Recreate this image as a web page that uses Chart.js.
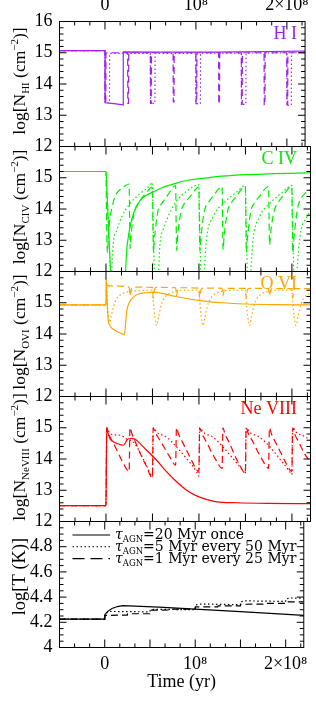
<!DOCTYPE html>
<html><head><meta charset="utf-8">
<script src="https://cdn.jsdelivr.net/npm/chart.js@4/dist/chart.umd.min.js"></script>
<style>
html,body{margin:0;padding:0;background:#fff;}
#wrap{position:relative;width:316px;height:728px;overflow:hidden;}
canvas{position:absolute;left:0;top:0;}
</style></head>
<body><div id="wrap">
<canvas id="c0" width="316" height="728"></canvas>
<canvas id="c1" width="316" height="728"></canvas>
<canvas id="c2" width="316" height="728"></canvas>
<canvas id="c3" width="316" height="728"></canvas>
<canvas id="c4" width="316" height="728"></canvas>
</div>
<script>
// ---------------- DATA (time in Myr, values in log units) ----------------
const SERIES_NAMES = ['τAGN=20 Myr once', 'τAGN=5 Myr every 50 Myr', 'τAGN=1 Myr every 25 Myr'];
const LEGEND_TEXT = ['=20 Myr once', '=5 Myr every 50 Myr', '=1 Myr every 25 Myr'];

const X_TICK_VALUES = [0, 1e8, 2e8];
const X_TICK_LABELS = ['0', '10⁸', '2×10⁸'];
const N_TICKS = [12, 13, 14, 15, 16];
const T_TICKS = [4, 4.2, 4.4, 4.6, 4.8, 5];

const HI_ONCE = [[-50,15.07],[0,15.07],[0.1,13.40],[10,13.37],[19.9,13.33],[20.1,15.03],[60,15.02],[120,15.02],[180,15.04],[220,15.05]];
const HI_P50 = [[-50,15.07],[0,15.07],[0.1,13.40],[4.9,13.40],[5.1,14.98],[49.9,14.98],[50.1,13.38],[54.9,13.38],[55.1,14.98],[99.9,14.98],[100.1,13.37],[104.9,13.37],[105.1,14.99],[149.9,14.99],[150.1,13.35],[154.9,13.35],[155.1,14.99],[199.9,15.0],[200.1,13.32],[204.9,13.32],[205.1,15.0],[220,15.0]];
const HI_P25 = [[-50,15.07],[0,15.07],[0.1,13.40],[0.9,13.40],[1.1,15.0],[24.9,15.0],[25.1,13.38],[25.9,13.38],[26.1,15.0],[49.9,15.0],[50.1,13.38],[50.9,13.38],[51.1,15.0],[74.9,15.0],[75.1,13.43],[75.9,13.43],[76.1,15.0],[99.9,15.0],[100.1,13.37],[100.9,13.37],[101.1,15.0],[124.9,15.0],[125.1,13.37],[125.9,13.37],[126.1,15.0],[149.9,15.0],[150.1,13.35],[150.9,13.35],[151.1,15.0],[174.9,15.0],[175.1,13.33],[175.9,13.33],[176.1,15.0],[199.9,15.0],[200.1,13.33],[200.9,13.33],[201.1,15.0],[220,15.0]];

const CIV_ONCE = [[-50,15.2],[0,15.2],[1,14.6],[2,13.9],[3,13.2],[4.3,12.4],[5.5,11.8],[6.5,11.2],[19.9,11.0],[21,11.9],[22.2,12.65],[24,13.1],[25.8,13.42],[29.4,13.85],[36.6,14.27],[43,14.43],[50.9,14.55],[60,14.68],[76,14.83],[88,14.92],[101,14.97],[125,15.05],[151,15.1],[180,15.13],[208,15.15],[220,15.16]];
const CIV_P50 = [[-50,15.2],[0,15.2],[1,14.6],[2,13.9],[3,13.2],[4,12.5],[5,11.6],[5.6,11.4],[6.5,12.2],[7.8,12.9],[11.5,13.31],[16.8,13.74],[25.8,14.17],[36.6,14.49],[47.3,14.75],[49.9,14.85],
 [50.6,13.8],[51.5,12.6],[52.5,11.6],[54.5,11.4],[56.5,12.0],[58,12.85],[61.6,13.35],[65.3,13.65],[74,14.18],[88,14.6],[99.9,14.78],
 [100.6,13.8],[101.5,12.6],[102.5,11.6],[104.5,11.4],[105.8,12.0],[108,13.0],[115,13.74],[126,14.17],[140.5,14.54],[149.9,14.75],
 [150.6,13.8],[151.5,12.6],[152.5,11.6],[154.5,11.4],[155.8,12.0],[158.4,13.05],[165,13.74],[176,14.17],[190,14.54],[199.9,14.75],
 [200.6,13.8],[201.5,12.6],[202.5,11.6],[204.5,11.4],[205.5,12.0],[208.6,13.1],[215.8,13.74],[220,13.92]];
const CIV_P25 = [[-50,15.2],[0,15.2],[0.5,14.0],[1,13.0],[1.5,12.6],[2.5,13.1],[4.3,13.7],[6.5,14.05],[9.7,14.4],[15,14.62],[20,14.73],[24.9,14.8],
 [25.5,13.5],[26,12.73],[27,13.15],[29.4,13.74],[32,14.02],[36.6,14.27],[43.8,14.54],[49.9,14.7],
 [50.5,13.5],[51,12.6],[52,13.0],[56,13.95],[60,14.18],[65,14.38],[74.9,14.75],
 [75.5,13.5],[76,12.67],[77,13.1],[81,13.95],[85,14.2],[90,14.38],[99.9,14.7],
 [100.5,13.5],[101,12.65],[102,13.05],[106,13.95],[110,14.2],[115,14.4],[124.9,14.72],
 [125.5,13.5],[126,12.7],[127,13.1],[131,13.95],[135,14.2],[140,14.4],[149.9,14.72],
 [150.5,13.5],[151,12.6],[152,13.0],[156,13.95],[160,14.2],[165,14.4],[174.9,14.72],
 [175.5,13.5],[176,12.85],[177,13.2],[181,13.95],[185,14.2],[190,14.4],[199.9,14.72],
 [200.5,13.5],[201,12.6],[202,13.0],[206,14.0],[210,14.35],[215,14.52],[220,14.62]];

const OVI_ONCE = [[-50,14.93],[0,14.93],[0.4,15.75],[1,15.2],[1.8,14.7],[2.5,14.43],[4.5,14.25],[7.9,14.15],[12,14.08],[19.9,13.98],[21,14.3],[22.3,14.72],[25,15.0],[29.4,15.18],[35,15.28],[43,15.32],[51,15.34],[75,15.2],[101,15.07],[125,15.0],[151,14.96],[180,14.94],[220,14.93]];
const OVI_P50 = [[-50,14.93],[0,14.93],[0.4,15.75],[1,15.3],[2,14.8],[3,14.5],[4.3,14.38],[5.5,14.55],[7.9,14.86],[11.5,15.13],[16,15.26],[22,15.34],[36.6,15.39],[49.9,15.4],
 [51,15.0],[52.5,14.55],[54.5,14.27],[56.5,14.55],[59.9,14.97],[65,15.23],[76,15.37],[88,15.4],[99.9,15.4],
 [101,15.0],[102.5,14.55],[104.5,14.27],[106.5,14.55],[109.9,14.97],[115,15.23],[126,15.37],[138,15.4],[149.9,15.4],
 [151,15.0],[152.5,14.55],[154.5,14.27],[156.5,14.55],[159.9,14.97],[165,15.23],[176,15.37],[188,15.4],[199.9,15.4],
 [201,15.0],[202.5,14.55],[204.5,14.27],[206.5,14.55],[209.9,14.97],[215,15.23],[220,15.3]];
const OVI_P25 = [[-50,14.93],[0,14.93],[0.4,15.75],[1,15.58],[3,15.54],[24.9,15.5],[25.8,15.22],[27,15.42],[29,15.5],[49.9,15.49],[50.8,15.15],[52,15.4],[54,15.49],[74.9,15.48],[75.8,15.22],[77,15.42],[79,15.48],[99.9,15.47],[100.8,15.15],[102,15.4],[104,15.47],[124.9,15.46],[125.8,15.22],[127,15.4],[129,15.46],[149.9,15.46],[150.8,15.15],[152,15.4],[154,15.46],[174.9,15.45],[175.8,15.22],[177,15.4],[179,15.45],[199.9,15.45],[200.8,15.15],[202,15.4],[204,15.45],[220,15.45]];

const NE_ONCE = [[-50,12.51],[0,12.51],[0.8,15.0],[2,14.85],[4.3,14.65],[8,14.55],[11.5,14.5],[18.6,14.44],[20.5,14.5],[22.3,14.6],[25,14.65],[27.6,14.66],[33,14.6],[38,14.45],[43.8,14.28],[54.5,13.96],[65.3,13.59],[76,13.27],[86.8,13.0],[97.5,12.82],[104.6,12.74],[119,12.63],[140,12.6],[173,12.58],[220,12.57]];
const NE_P50 = [[-50,12.51],[0,12.51],[0.8,15.0],[4.3,14.81],[15,14.76],[22,14.65],[29.4,14.54],[35,14.3],[40,14.01],[45,13.7],[49.9,13.43],
 [50.8,15.0],[54.5,14.86],[65,14.7],[76,14.38],[86.8,14.01],[97.5,13.59],[99.9,13.45],
 [100.8,15.0],[104.5,14.86],[115,14.7],[126,14.38],[137,14.0],[147.5,13.62],[149.9,13.52],
 [150.8,15.0],[154.5,14.86],[165,14.7],[176,14.4],[187,14.0],[197.5,13.6],[199.9,13.5],
 [200.8,15.0],[204.5,14.86],[215,14.7],[220,14.6]];
const NE_P25 = [[-50,12.51],[0,12.51],[0.8,15.0],[3,14.8],[8,14.5],[13,14.2],[18,13.9],[24.9,13.6],
 [25.8,15.0],[28,14.8],[33,14.45],[38,14.1],[43,13.8],[49.9,13.4],
 [50.8,15.0],[53,14.85],[58,14.6],[63,14.35],[68,14.1],[74.9,13.8],
 [75.8,15.0],[78,14.8],[83,14.5],[88,14.2],[93,13.9],[99.9,13.6],
 [100.8,15.0],[103,14.82],[108,14.55],[113,14.25],[118,13.98],[124.9,13.7],
 [125.8,15.0],[128,14.8],[133,14.5],[138,14.15],[143,13.85],[149.9,13.55],
 [150.8,15.0],[153,14.82],[158,14.55],[163,14.25],[168,13.98],[174.9,13.7],
 [175.8,15.0],[178,14.8],[183,14.5],[188,14.2],[193,13.9],[199.9,13.6],
 [200.8,15.0],[203,14.8],[208,14.5],[213,14.2],[220,13.9]];

const T_ONCE = [[-50,4.225],[0,4.225],[0.3,4.262],[3,4.285],[8,4.31],[14,4.325],[20,4.333],[60,4.32],[100,4.305],[150,4.285],[220,4.255]];
const T_P50 = [[-50,4.225],[0,4.225],[0.3,4.262],[3,4.28],[5,4.286],[49.9,4.283],[50.3,4.298],[55,4.303],[99.9,4.30],[100.3,4.338],[105,4.345],[149.9,4.34],[150.3,4.363],[155,4.37],[199.9,4.366],[200.3,4.385],[205,4.393],[220,4.392]];
const T_P25 = [[-50,4.225],[0,4.225],[0.3,4.255],[24.9,4.257],[25.3,4.268],[49.9,4.268],[50.3,4.296],[74.9,4.298],[75.3,4.305],[99.9,4.305],[100.3,4.322],[124.9,4.323],[125.3,4.33],[149.9,4.33],[150.3,4.343],[174.9,4.344],[175.3,4.35],[199.9,4.35],[200.3,4.362],[220,4.362]];

// ---------------- STYLE / LAYOUT ----------------
const SERIF = '"Liberation Serif", "Times New Roman", serif';
const WIDE = '"DejaVu Serif", serif';
const DASHES = [[], [1.5, 2.5], [7, 4]];
const X_MIN = -5e7, X_MAX = 2.2e8;
const X_MAJOR_STEP = 5e7, X_MINOR_STEP = 5e7 / 3;
const LEFT_W = 59.5, RIGHT_PAD = 5.5;

const PANELS = [
  { id: 'c0', top: 21.5, bottom: 146.5, color: '#A020F0', label: 'H I', sub: 'HI', series: [HI_ONCE, HI_P50, HI_P25],
    yMin: 12, yMax: 16, yTicks: N_TICKS, yMinor: 0.2, hideTop: false, smooth: false, xPos: 'top', xH: 21.5, xPad: 7, titleShift: -3 },
  { id: 'c1', top: 146.5, bottom: 271.5, color: '#00EE00', label: 'C IV', sub: 'CIV', series: [CIV_ONCE, CIV_P50, CIV_P25],
    yMin: 12, yMax: 16, yTicks: N_TICKS, yMinor: 0.2, hideTop: true, smooth: true, titleShift: -2 },
  { id: 'c2', top: 271.5, bottom: 396.5, color: '#FFA500', label: 'O VI', sub: 'OVI', series: [OVI_ONCE, OVI_P50, OVI_P25],
    yMin: 12, yMax: 16, yTicks: N_TICKS, yMinor: 0.2, hideTop: true, smooth: true, titleShift: -2 },
  { id: 'c3', top: 396.5, bottom: 521.5, color: '#FF0000', label: 'Ne VIII', sub: 'NeVIII', series: [NE_ONCE, NE_P50, NE_P25],
    yMin: 12, yMax: 16, yTicks: N_TICKS, yMinor: 0.2, hideTop: true, smooth: true, titleShift: -2 },
  { id: 'c4', top: 521.5, bottom: 647.5, color: '#000000', label: null, sub: null, series: [T_ONCE, T_P50, T_P25],
    yMin: 4, yMax: 5, yTicks: T_TICKS, yMinor: 0.05, hideTop: true, smooth: false, xPos: 'bottom', xH: 44, xPad: 8.2, titleShift: -8, legend: true }
];

function drawRich(ctx, parts, x, y) {
  let cx = x;
  parts.forEach(p => {
    ctx.font = p.font;
    ctx.fillText(p.text, cx, y + (p.dy || 0));
    cx += ctx.measureText(p.text).width;
  });
  return cx;
}
function richWidth(ctx, parts) {
  let w = 0;
  parts.forEach(p => { ctx.font = p.font; w += ctx.measureText(p.text).width; });
  return w;
}

const panelPlugin = {
  id: 'panel',
  afterDatasetsDraw(chart, args, o) {
    const { ctx, chartArea: a, scales: { x, y } } = chart;
    const p = o.cfg;
    ctx.save();
    ctx.strokeStyle = '#000';
    ctx.lineWidth = 1;
    ctx.setLineDash([]);
    ctx.beginPath();
    for (let v = X_MIN; v <= X_MAX + 1; v += X_MINOR_STEP) {
      const px = x.getPixelForValue(v);
      const isMajor = Math.abs(v / X_MAJOR_STEP - Math.round(v / X_MAJOR_STEP)) < 1e-6;
      const len = isMajor ? 8 : 4;
      ctx.moveTo(px, a.bottom); ctx.lineTo(px, a.bottom - len);
      ctx.moveTo(px, a.top); ctx.lineTo(px, a.top + len);
    }
    const nMinor = Math.round((p.yMax - p.yMin) / p.yMinor);
    for (let k = 0; k <= nMinor; k++) {
      const v = p.yMin + k * p.yMinor;
      const py = y.getPixelForValue(v);
      const isMajor = p.yTicks.some(t => Math.abs(t - v) < 1e-6);
      const len = isMajor ? 7 : 4;
      ctx.moveTo(a.left, py); ctx.lineTo(a.left + len, py);
      ctx.moveTo(a.right, py); ctx.lineTo(a.right - len, py);
    }
    ctx.stroke();
    ctx.strokeRect(a.left, a.top, a.right - a.left, a.bottom - a.top);

    ctx.fillStyle = '#000';
    ctx.textBaseline = 'alphabetic';
    ctx.textAlign = 'left';
    const big = '17.5px ' + SERIF, small = '11px ' + SERIF;
    const parts = p.sub
      ? [{ text: 'log[N', font: big }, { text: p.sub, font: small, dy: 4 }, { text: ' (cm', font: big },
         { text: '−2', font: small, dy: -7 }, { text: ')]', font: big }]
      : [{ text: 'log[T (K)]', font: '18.5px ' + SERIF }];
    const tw = richWidth(ctx, parts);
    const cy = (a.top + a.bottom) / 2 + p.titleShift;
    ctx.translate(24.5, cy);
    ctx.rotate(-Math.PI / 2);
    drawRich(ctx, parts, -tw / 2, 0);
    ctx.setTransform(1, 0, 0, 1, 0, 0);

    if (p.label) {
      ctx.fillStyle = p.color;
      ctx.font = '18px ' + SERIF;
      ctx.textAlign = 'right';
      ctx.fillText(p.label, 297, a.top + 17.5);
    }

    if (p.legend) {
      ctx.textAlign = 'left';
      ctx.fillStyle = '#000';
      LEGEND_TEXT.forEach((txt, i) => {
        const ly = a.top + 13.5 + i * 11.8;
        ctx.strokeStyle = '#000';
        ctx.lineWidth = 1.1;
        ctx.setLineDash(i === 2 ? [12, 6] : DASHES[i]);
        ctx.beginPath();
        ctx.moveTo(72.5, ly); ctx.lineTo(110, ly);
        ctx.stroke();
        ctx.setLineDash([]);
        drawRich(ctx, [
          { text: 'τ', font: 'italic 14px ' + WIDE },
          { text: 'AGN', font: '8.5px ' + WIDE, dy: 3 },
          { text: txt, font: '14px ' + WIDE }
        ], 115, ly + 4);
      });
    }
    ctx.restore();
  }
};

PANELS.forEach(p => {
  const datasets = p.series.map((s, i) => ({
    label: SERIES_NAMES[i],
    data: s.map(([t, v]) => ({ x: t * 1e6, y: v })),
    borderColor: p.color,
    borderWidth: 1.2,
    borderDash: DASHES[i],
    pointRadius: 0,
    fill: false,
    tension: 0,
    cubicInterpolationMode: p.smooth ? 'monotone' : 'default',
    clip: 0
  }));
  const xShown = !!p.xPos;
  const tickFont = { family: SERIF, size: 18, lineHeight: 1 };
  new Chart(document.getElementById(p.id), {
    type: 'line',
    data: { datasets },
    plugins: [panelPlugin],
    options: {
      responsive: false,
      maintainAspectRatio: false,
      devicePixelRatio: 1,
      animation: false,
      events: [],
      layout: {
        padding: {
          left: 0,
          right: RIGHT_PAD,
          top: p.top - (p.xPos === 'top' ? p.xH : 0),
          bottom: 728 - p.bottom - (p.xPos === 'bottom' ? p.xH : 0)
        }
      },
      plugins: { legend: { display: false }, tooltip: { enabled: false }, panel: { cfg: p } },
      scales: {
        x: {
          type: 'linear', min: X_MIN, max: X_MAX,
          position: p.xPos || 'bottom',
          display: xShown,
          grid: { display: false, drawTicks: false },
          border: { display: false },
          afterBuildTicks: s => { s.ticks = X_TICK_VALUES.map(v => ({ value: v })); },
          ticks: {
            autoSkip: false, maxRotation: 0, minRotation: 0,
            padding: p.xPad || 0,
            color: '#000', font: tickFont,
            callback: (v, i) => X_TICK_LABELS[i]
          },
          title: {
            display: p.xPos === 'bottom', text: 'Time (yr)', color: '#000',
            font: { family: SERIF, size: 18, lineHeight: 1 }, padding: 0
          },
          afterFit: s => { s.height = p.xH || 0; }
        },
        y: {
          type: 'linear', min: p.yMin, max: p.yMax,
          grid: { display: false, drawTicks: false },
          border: { display: false },
          afterBuildTicks: s => { s.ticks = p.yTicks.map(v => ({ value: v })); },
          ticks: {
            padding: 7, color: '#000', font: tickFont, autoSkip: false,
            callback: (v, i) => (p.hideTop && i === p.yTicks.length - 1) ? '' : String(p.yTicks[i])
          },
          afterFit: s => { s.width = LEFT_W; }
        }
      }
    }
  });
});
</script>
</body></html>
